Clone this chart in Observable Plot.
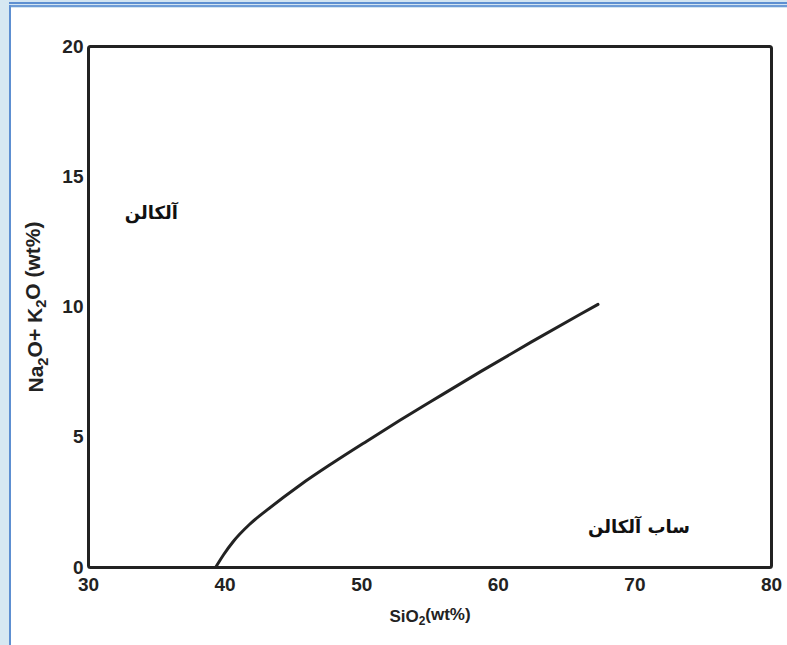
<!DOCTYPE html>
<html>
<head>
<meta charset="utf-8">
<script src="https://cdn.jsdelivr.net/npm/d3@7"></script>
<script src="https://cdn.jsdelivr.net/npm/@observablehq/plot@0.6"></script>
<style>
  html, body { margin: 0; padding: 0; background: #fff; }
  #page { position: relative; width: 787px; height: 645px; background: #fff; overflow: hidden; }
  .strip { position: absolute; }
  #chart { position: absolute; left: 0; top: 0; }
</style>
</head>
<body>
<div id="page">
  <div class="strip" style="left:0;top:0;width:787px;height:8px;background:#d3e5f2"></div>
  <div class="strip" style="left:0;top:2px;width:787px;height:2px;background:#5d8fd1"></div>
  <div class="strip" style="left:9px;top:5px;width:778px;height:2px;background:#6d9bd6"></div>
  <div class="strip" style="left:0;top:0;width:9px;height:645px;background:#d6e8f2"></div>
  <div class="strip" style="left:9px;top:5px;width:2px;height:640px;background:#5d8fd1"></div>
  <div id="chart"></div>
</div>
<script>
// Boundary curve between alkaline and subalkaline fields
const sio2 = [39.3, 39.9, 40.6, 41.8, 43.1, 45.5, 47.9, 50.4, 52.8, 55.0, 58.7, 62.4, 66.0, 67.3];
const alkali = [0, 0.5, 1.0, 1.66, 2.22, 3.17, 4.02, 4.86, 5.65, 6.35, 7.52, 8.65, 9.72, 10.1];

// Field labels
const fieldNames = ["آلکالن", "ساب آلکالن"];
const fieldX = [34.6, 70.3];
const fieldY = [13.6, 1.55];

// Axis ticks
const xTicks = [30, 40, 50, 60, 70, 80];
const yTicks = [0, 5, 10, 15, 20];

const curve = sio2.map((x, i) => ({x, y: alkali[i]}));
const fields = fieldNames.map((name, i) => ({name, x: fieldX[i], y: fieldY[i]}));

const font = "'Liberation Sans', Arial, sans-serif";

const chart = Plot.plot({
  width: 787,
  height: 645,
  marginLeft: 88,
  marginRight: 16,
  marginTop: 46,
  marginBottom: 78,
  style: {background: "transparent", fontFamily: font, color: "#222"},
  x: {domain: [30, 80]},
  y: {domain: [0, 20]},
  marks: [
    Plot.axisX({ticks: xTicks, tickSize: 0, tickPadding: 10, fontSize: 19, fontWeight: "bold",
      label: "SiO2(wt%)", labelAnchor: "center", labelOffset: 54, labelArrow: "none"}),
    Plot.axisY({ticks: yTicks, tickSize: 0, tickPadding: 5, fontSize: 19, fontWeight: "bold",
      label: "Na2O+ K2O (wt%)", labelAnchor: "center", labelOffset: 60, labelArrow: "none"}),
    Plot.line(curve, {x: "x", y: "y", curve: "monotone-x", stroke: "#222", strokeWidth: 3}),
    Plot.text(fields, {x: "x", y: "y", text: "name", fontSize: 18, fontWeight: "bold",
      fontFamily: "'DejaVu Sans', sans-serif", fill: "#111"}),
    Plot.frame({stroke: "#222", strokeWidth: 3, rx: 2})
  ]
});

// subscripts in axis labels
function subscriptify(text, parts, size) {
  if (!text) return;
  text.setAttribute("font-size", size);
  text.style.fontSize = size + "px";
  text.setAttribute("font-weight", "bold");
  const t = d3.select(text);
  t.text(null);
  parts.forEach(([s, sub], i) => {
    const ts = t.append("tspan").text(s);
    if (sub) ts.attr("dy", "0.3em").attr("font-size", "0.7em");
    else if (i > 0) ts.attr("dy", "-0.3em");
  });
}
const xl = chart.querySelector('[aria-label="x-axis label"] text');
const yl = chart.querySelector('[aria-label="y-axis label"] text');
subscriptify(xl, [["SiO"], ["2", true], ["(wt%)"]], 17);
subscriptify(yl, [["Na"], ["2", true], ["O+ K"], ["2", true], ["O (wt%)"]], 21);

document.getElementById("chart").append(chart);
</script>
</body>
</html>
